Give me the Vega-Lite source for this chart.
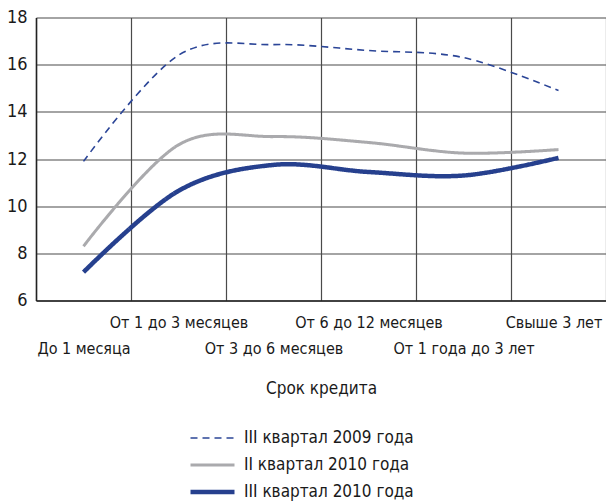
{
  "$schema": "https://vega.github.io/schema/vega-lite/v6.json",
  "width": 570,
  "height": 283,
  "autosize": {"type": "none"},
  "padding": {"left": 36, "top": 17.5, "right": 0, "bottom": 202.5},
  "background": "white",
  "config": {
    "font": "DejaVu Sans Condensed",
    "view": {"stroke": null}
  },
  "data": {
    "values": [
      {"term": "До 1 месяца", "series": "III квартал 2009 года", "rate": 11.9},
      {"term": "От 1 до 3 месяцев", "series": "III квартал 2009 года", "rate": 16.4},
      {"term": "От 3 до 6 месяцев", "series": "III квартал 2009 года", "rate": 16.85},
      {"term": "От 6 до 12 месяцев", "series": "III квартал 2009 года", "rate": 16.6},
      {"term": "От 1 года до 3 лет", "series": "III квартал 2009 года", "rate": 16.3},
      {"term": "Свыше 3 лет", "series": "III квартал 2009 года", "rate": 14.9},
      {"term": "До 1 месяца", "series": "II квартал 2010 года", "rate": 8.3},
      {"term": "От 1 до 3 месяцев", "series": "II квартал 2010 года", "rate": 12.6},
      {"term": "От 3 до 6 месяцев", "series": "II квартал 2010 года", "rate": 12.95},
      {"term": "От 6 до 12 месяцев", "series": "II квартал 2010 года", "rate": 12.7},
      {"term": "От 1 года до 3 лет", "series": "II квартал 2010 года", "rate": 12.25},
      {"term": "Свыше 3 лет", "series": "II квартал 2010 года", "rate": 12.4},
      {"term": "До 1 месяца", "series": "III квартал 2010 года", "rate": 7.2},
      {"term": "От 1 до 3 месяцев", "series": "III квартал 2010 года", "rate": 10.65},
      {"term": "От 3 до 6 месяцев", "series": "III квартал 2010 года", "rate": 11.75},
      {"term": "От 6 до 12 месяцев", "series": "III квартал 2010 года", "rate": 11.45},
      {"term": "От 1 года до 3 лет", "series": "III квартал 2010 года", "rate": 11.3},
      {"term": "Свыше 3 лет", "series": "III квартал 2010 года", "rate": 12.05}
    ]
  },
  "mark": {"type": "line", "interpolate": "cardinal"},
  "encoding": {
    "x": {
      "field": "term",
      "type": "nominal",
      "sort": null,
      "scale": {"type": "band", "paddingInner": 0, "paddingOuter": 0},
      "axis": {
        "title": "Срок кредита",
        "titleFontSize": 17,
        "titleFontWeight": "normal",
        "titleColor": "#1a1a1a",
        "titlePadding": 24,
        "labelAngle": 0,
        "labelFontSize": 16,
        "labelColor": "#1a1a1a",
        "labelPadding": 14,
        "labelLineHeight": 26,
        "labelBaseline": "top",
        "labelOverlap": false,
        "labelBound": false,
        "labelOffset": {"condition": {"test": "datum.index == 1", "value": -5}, "value": 0},
        "labelExpr": "round(datum.index * 5) % 2 == 0 ? [' ', datum.label] : [datum.label, ' ']",
        "tickBand": "extent",
        "ticks": false,
        "grid": true,
        "gridColor": "#4a4a4a",
        "gridWidth": 1.2,
        "domainColor": "#222222",
        "domainWidth": 1.5
      }
    },
    "y": {
      "field": "rate",
      "type": "quantitative",
      "scale": {"domain": [6, 18], "nice": false, "zero": false},
      "axis": {
        "title": null,
        "values": [6, 8, 10, 12, 14, 16, 18],
        "ticks": false,
        "labelFontSize": 18,
        "labelColor": "#1a1a1a",
        "labelPadding": 9,
        "grid": true,
        "gridColor": "#4a4a4a",
        "gridWidth": 1.2,
        "domainColor": "#222222",
        "domainWidth": 1.5
      }
    },
    "color": {
      "field": "series",
      "type": "nominal",
      "sort": null,
      "scale": {
        "domain": ["III квартал 2009 года", "II квартал 2010 года", "III квартал 2010 года"],
        "range": ["#2b4597", "#aaaaad", "#26408e"]
      },
      "legend": {
        "orient": "none",
        "legendX": 152,
        "legendY": 407,
        "title": null,
        "symbolType": "stroke",
        "symbolSize": 1936,
        "clipHeight": 27,
        "labelFontSize": 17,
        "labelColor": "#1a1a1a",
        "labelOffset": 7,
        "labelLimit": 400,
        "rowPadding": 0
      }
    },
    "strokeDash": {
      "field": "series",
      "type": "nominal",
      "sort": null,
      "scale": {
        "domain": ["III квартал 2009 года", "II квартал 2010 года", "III квартал 2010 года"],
        "range": [[7, 5], [1, 0], [1, 0]]
      }
    },
    "strokeWidth": {
      "field": "series",
      "type": "nominal",
      "sort": null,
      "scale": {
        "domain": ["III квартал 2009 года", "II квартал 2010 года", "III квартал 2010 года"],
        "range": [1.6, 4.5, 4.5]
      }
    }
  }
}
